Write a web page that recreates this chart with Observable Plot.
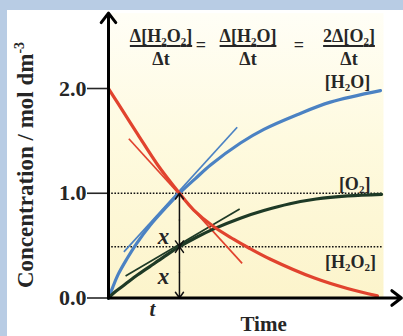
<!DOCTYPE html>
<html>
<head>
<meta charset="utf-8">
<script src="https://cdn.jsdelivr.net/npm/d3@7"></script>
<script src="https://cdn.jsdelivr.net/npm/@observablehq/plot@0.6"></script>
<style>
  html, body { margin: 0; padding: 0; }
  body { width: 403px; height: 336px; background: #b8cce4; position: relative; overflow: hidden;
         font-family: "Liberation Serif", "Times New Roman", serif; color: #262626; }
  #paper { position: absolute; left: 7px; top: 10px; right: 0; bottom: 0; background: #fff; }
  #chart { position: absolute; left: 0; top: 0; }
  #ylabel { position: absolute; left: -124px; top: 152px; width: 300px; height: 26px; line-height: 26px;
            text-align: center; transform: rotate(-90deg); font-weight: bold; font-size: 23px; white-space: nowrap; }
  #ylabel sup { font-size: 14px; vertical-align: 9px; line-height: 0; }
  .frac { position: absolute; top: 27px; transform: translateX(-50%); text-align: center;
          font-weight: bold; font-size: 18px; line-height: 18px; white-space: nowrap; }
  .frac .num { text-decoration: underline; text-decoration-thickness: 1.5px; text-underline-offset: 3px; }
  .frac .den { margin-top: 5px; }
  .frac sub { font-size: 11px; vertical-align: -3px; line-height: 0; }
  .eqs { position: absolute; top: 36px; transform: translateX(-50%); font-weight: bold; font-size: 18px; line-height: 18px; }
</style>
</head>
<body>
<div id="paper"></div>
<div id="chart"></div>
<div id="ylabel">Concentration / mol dm<sup>-3</sup></div>
<div class="frac" style="left:161px"><div class="num">Δ[H<sub>2</sub>O<sub>2</sub>]</div><div class="den">Δt</div></div>
<div class="eqs" style="left:201px">=</div>
<div class="frac" style="left:248px"><div class="num">Δ[H<sub>2</sub>O]</div><div class="den">Δt</div></div>
<div class="eqs" style="left:299px">=</div>
<div class="frac" style="left:349px"><div class="num">2Δ[O<sub>2</sub>]</div><div class="den">Δt</div></div>
<script>
// ---- data ----
const tH2O2 = [0, 0.34, 1.07, 1.79, 2.58, 3.1, 3.83, 4.56, 5.09, 5.89, 7.49, 8.69, 9.78];
const vH2O2 = [2.0, 1.86, 1.56, 1.27, 1.0, 0.84, 0.68, 0.56, 0.48, 0.37, 0.19, 0.09, 0.02];
const tH2O  = [0, 0.15, 0.36, 0.66, 1.02, 1.53, 2.07, 2.58, 3.16, 3.71, 4.8, 5.65, 6.86, 8.07, 9.89];
const vH2O  = [0, 0.10, 0.23, 0.37, 0.52, 0.70, 0.86, 1.0, 1.14, 1.27, 1.48, 1.61, 1.75, 1.87, 1.98];
const tO2   = [0, 0.2, 0.5, 1.0, 1.5, 2.0, 2.58, 3.2, 3.83, 4.77, 5.65, 6.6, 7.55, 8.7, 9.93];
const vO2   = [0, 0.05, 0.11, 0.21, 0.30, 0.39, 0.49, 0.58, 0.66, 0.76, 0.835, 0.90, 0.945, 0.975, 0.99];

const tangentH2O2 = [[0.74, 1.52], [4.86, 0.33]];
const tangentH2O  = [[0.56, 0.44], [4.68, 1.63]];
const tangentO2   = [[0.62, 0.21], [4.77, 0.85]];

const yTicks = [0, 1, 2];
const guideLevels = [1.0, 0.49];
const tMark = 2.58;
const arrowLevels = [0, 0.49, 1.0];

const seriesNames = ["[H₂O]", "[O₂]", "[H₂O₂]"];
const seriesLabelT = [8.69, 8.95, 8.8];
const seriesLabelV = [2.06, 1.09, 0.34];
const xLabelT = [2.0, 2.0];
const xLabelV = [0.59, 0.205];
const tTickLabel = {t: 1.6, text: "t"};
const xTitle = {t: 5.64, text: "Time"};

const xDomain = [0, 10];
const yDomain = [0, 2.72];
const xArrowEnd = 10.65;

// ---- build tables ----
const pts = (ts, vs) => ts.map((t, i) => ({t, v: vs[i]}));
const seg = (p) => [{t1: p[0][0], v1: p[0][1], t2: p[1][0], v2: p[1][1]}];
const arrowsV = [];
for (let i = 0; i < arrowLevels.length - 1; i++) {
  const a = arrowLevels[i], b = arrowLevels[i + 1], m = (a + b) / 2;
  arrowsV.push({t: tMark, v1: m, v2: a}, {t: tMark, v1: m, v2: b});
}
const labels = seriesNames.map((s, i) => ({t: seriesLabelT[i], v: seriesLabelV[i], s}));
const xLabels = xLabelT.map((t, i) => ({t, v: xLabelV[i]}));

const RED = "#e1432e", BLUE = "#4b82c3", GREEN = "#1e3a26", INK = "#262626";

const chart = Plot.plot({
  width: 403, height: 336,
  marginLeft: 108, marginRight: 20, marginTop: 12.6, marginBottom: 38.5,
  style: {background: "transparent", fontFamily: "Liberation Serif, Times New Roman, serif",
          fontSize: "22px", fontWeight: "bold", color: INK},
  x: {domain: xDomain, axis: null},
  y: {domain: yDomain, ticks: yTicks, tickFormat: d => d.toFixed(1), tickSize: 21, tickPadding: 1, label: null},
  marks: [
    Plot.frame({fill: "url(#panelGrad)", stroke: "none"}),
    Plot.ruleY(guideLevels, {stroke: "#111", strokeWidth: 1.6, strokeDasharray: "1.6,1.6"}),
    Plot.link(seg(tangentH2O), {x1: "t1", y1: "v1", x2: "t2", y2: "v2", stroke: BLUE, strokeWidth: 1.7}),
    Plot.link(seg(tangentO2), {x1: "t1", y1: "v1", x2: "t2", y2: "v2", stroke: GREEN, strokeWidth: 1.7}),
    Plot.link(seg(tangentH2O2), {x1: "t1", y1: "v1", x2: "t2", y2: "v2", stroke: RED, strokeWidth: 1.7}),
    Plot.line(pts(tH2O, vH2O), {x: "t", y: "v", stroke: BLUE, strokeWidth: 3.2, curve: "catmull-rom"}),
    Plot.line(pts(tO2, vO2), {x: "t", y: "v", stroke: GREEN, strokeWidth: 3.2, curve: "catmull-rom"}),
    Plot.line(pts(tH2O2, vH2O2), {x: "t", y: "v", stroke: RED, strokeWidth: 3.2, curve: "catmull-rom"}),
    Plot.arrow(arrowsV, {x1: "t", y1: "v1", x2: "t", y2: "v2", stroke: "#111", strokeWidth: 1.5, headLength: 7, headAngle: 70}),
    Plot.arrow([{t1: 0, v1: 0, t2: 0, v2: yDomain[1]}], {x1: "t1", y1: "v1", x2: "t2", y2: "v2", stroke: "#000", strokeWidth: 3, headLength: 6, headAngle: 75}),
    Plot.arrow([{t1: 0, v1: 0, t2: xArrowEnd, v2: 0}], {x1: "t1", y1: "v1", x2: "t2", y2: "v2", stroke: "#000", strokeWidth: 3, headLength: 6, headAngle: 75}),
    Plot.text(labels, {x: "t", y: "v", text: "s", fontSize: 18, fontWeight: "bold", fill: INK}),
    Plot.text(xLabels, {x: "t", y: "v", text: () => "x", fontSize: 23, fontWeight: "bold", fontStyle: "italic", fill: INK}),
    Plot.text([tTickLabel], {x: "t", y: () => 0, text: "text", dy: 11, fontSize: 21, fontWeight: "bold", fontStyle: "italic", fill: INK}),
    Plot.text([xTitle], {x: "t", y: () => 0, text: "text", dy: 26, fontSize: 21, fontWeight: "bold", fill: INK})
  ]
});

// gradient for the pale yellow panel
const ns = "http://www.w3.org/2000/svg";
const defs = document.createElementNS(ns, "defs");
defs.innerHTML = '<linearGradient id="panelGrad" x1="0" y1="0" x2="0" y2="1">' +
  '<stop offset="0" stop-color="#fffef6"/><stop offset="0.45" stop-color="#fefadf"/>' +
  '<stop offset="1" stop-color="#fcf4cb"/></linearGradient>';
chart.insertBefore(defs, chart.firstChild);

// tick line thickness
chart.querySelectorAll('[aria-label^="y-axis"] line, [aria-label="y-axis tick"] path').forEach(el => {
  el.setAttribute("stroke-width", "1.6");
  el.style.strokeWidth = "1.6px";
});

// real subscripts for the unicode subscript digits
const subMap = {"₀":"0","₁":"1","₂":"2","₃":"3","₄":"4","₅":"5","₆":"6","₇":"7","₈":"8","₉":"9"};
chart.querySelectorAll("text").forEach(tx => {
  const targets = tx.querySelector("tspan") ? [...tx.querySelectorAll("tspan")] : [tx];
  targets.forEach(el => {
    const s = el.textContent;
    if (!/[₀-₉]/.test(s)) return;
    el.textContent = "";
    s.split(/([₀-₉]+)/).forEach(p => {
      if (!p) return;
      const ts = document.createElementNS(ns, "tspan");
      if (/[₀-₉]/.test(p)) {
        ts.textContent = [...p].map(c => subMap[c]).join("");
        ts.setAttribute("font-size", "11");
        ts.setAttribute("baseline-shift", "-3");
      } else ts.textContent = p;
      el.appendChild(ts);
    });
  });
});

document.getElementById("chart").appendChild(chart);
</script>
</body>
</html>
